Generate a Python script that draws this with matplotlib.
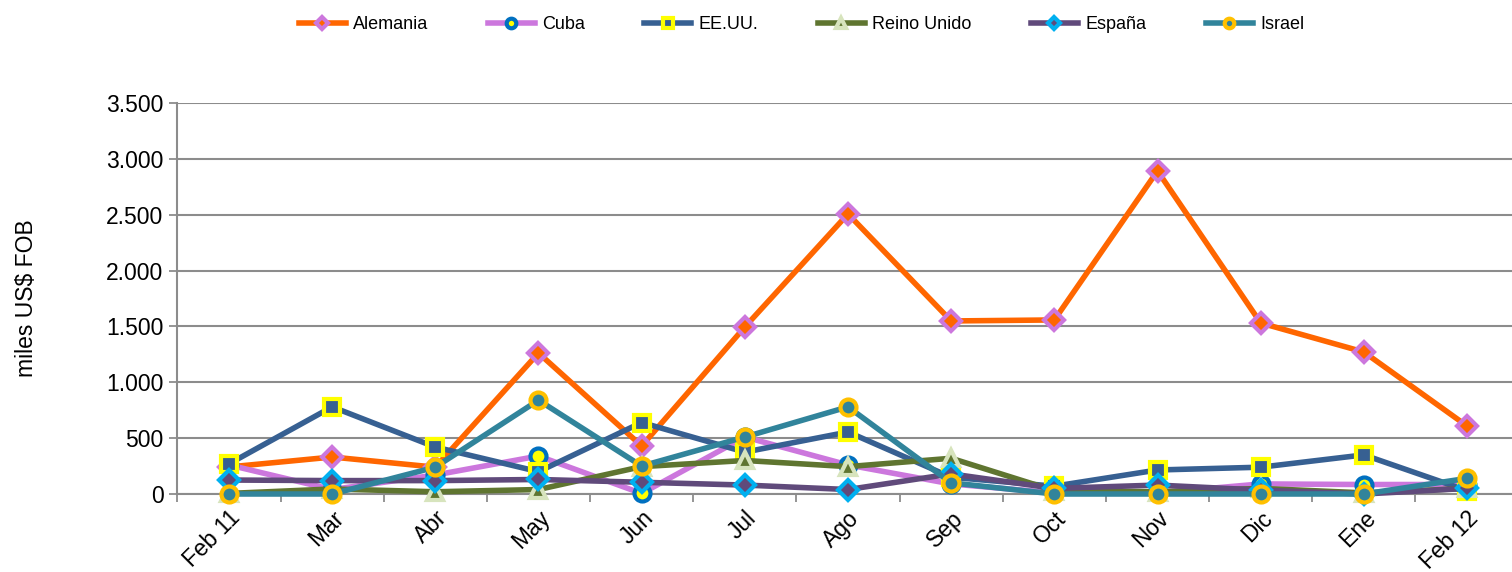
import matplotlib
matplotlib.use("Agg")
import matplotlib.pyplot as plt
from matplotlib.ticker import FuncFormatter, FixedLocator

plt.rcParams['font.family'] = ['Liberation Sans', 'DejaVu Sans']

categories = ["Feb 11", "Mar", "Abr", "May", "Jun", "Jul", "Ago", "Sep", "Oct", "Nov", "Dic", "Ene", "Feb 12"]
alemania = [242, 331, 240, 1262, 430, 1495, 2507, 1549, 1558, 2892, 1531, 1271, 609]
cuba = [260, 40, 170, 340, 5, 510, 260, 90, 10, 10, 90, 85, 85]
eeuu = [270, 780, 420, 200, 640, 375, 555, 150, 70, 215, 240, 350, 30]
reino_unido = [5, 45, 20, 40, 245, 300, 245, 320, 30, 20, 50, 10, 50]
espana = [125, 120, 120, 130, 105, 80, 40, 180, 50, 80, 35, 0, 50]
israel = [0, 0, 240, 840, 250, 510, 780, 100, 0, 0, 0, 0, 140]
yticks = [0, 500, 1000, 1500, 2000, 2500, 3000, 3500]

series = [
    ("Alemania", alemania, "#FF6600", "D", "#FF6600", "#CC77DD"),
    ("Cuba", cuba, "#CC77DD", "o", "#FFFF00", "#0070C0"),
    ("EE.UU.", eeuu, "#376092", "s", "#376092", "#FFFF00"),
    ("Reino Unido", reino_unido, "#5F7530", "^", "#5F7530", "#D7E4BD"),
    ("España", espana, "#604A7B", "D", "#604A7B", "#00B0F0"),
    ("Israel", israel, "#31849B", "o", "#31849B", "#FFC000"),
]

fig = plt.figure(figsize=(15.12, 5.72), dpi=100)
ax = fig.add_axes([177.4 / 1512, 78 / 572, (1518.6 - 177.4) / 1512, 391 / 572])

x = list(range(len(categories)))
for name, vals, lc, mk, mfc, mec in series:
    ms = 10.5 if mk == "D" else 11.5
    ax.plot(x, vals, color=lc, linewidth=4, marker=mk, markersize=ms,
            markerfacecolor=mfc, markeredgecolor=mec, markeredgewidth=3,
            label=name, zorder=3, clip_on=False)

ax.set_xlim(-0.5, len(categories) - 0.5)
ax.set_ylim(0, 3500)
ax.set_yticks(yticks)
ax.yaxis.set_major_formatter(FuncFormatter(lambda v, p: f"{int(v):,}".replace(",", ".")))
ax.grid(axis='y', color='#8C8C8C', linewidth=1.5, zorder=0)
ax.set_axisbelow(True)

ax.set_xticks(x)
ax.set_xticklabels(categories, rotation=45, ha='right', rotation_mode='anchor')
ax.xaxis.set_minor_locator(FixedLocator([i + 0.5 for i in range(-1, len(categories))]))
ax.tick_params(axis='x', which='major', length=0, pad=9, labelsize=16.5)
ax.tick_params(axis='x', which='minor', length=6, width=1.3, color='#8C8C8C', direction='out')
ax.tick_params(axis='y', which='major', length=6, width=1.3, color='#8C8C8C', labelsize=16.5, pad=4)

for s in ['top', 'right']:
    ax.spines[s].set_visible(False)
ax.spines['left'].set_color('#8C8C8C')
ax.spines['left'].set_linewidth(1.5)
ax.spines['bottom'].set_color('#8C8C8C')
ax.spines['bottom'].set_linewidth(1.5)

ax.set_ylabel("miles US$ FOB", fontsize=16.5, labelpad=49)

fig.legend(loc='upper center', bbox_to_anchor=(0.53, 1.0), ncol=6, frameon=False,
           fontsize=13, handlelength=2.6, columnspacing=3.3, handletextpad=0.4,
           markerscale=0.6)

fig.savefig("out.png", dpi=100)
